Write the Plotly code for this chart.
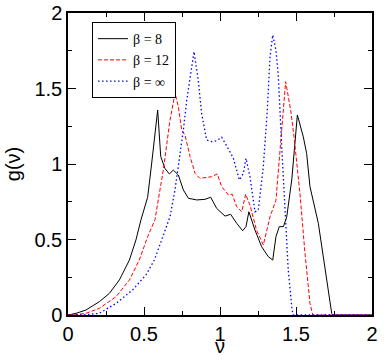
import plotly.graph_objects as go

# beta = 8
x8 = [0.0, 0.053, 0.118, 0.206, 0.272, 0.338, 0.404, 0.447, 0.48, 0.5, 0.524, 0.55, 0.572, 0.59,
      0.61, 0.638, 0.667, 0.693, 0.726, 0.759, 0.792, 0.847, 0.901, 0.939, 0.978, 1.033, 1.07,
      1.11, 1.149, 1.171, 1.19, 1.23, 1.274, 1.318, 1.347, 1.368, 1.39, 1.417, 1.439, 1.472,
      1.509, 1.548, 1.57, 1.592, 1.647, 1.68, 1.713, 1.735, 1.745, 2.0]
y8 = [0.0, 0.011, 0.033, 0.088, 0.143, 0.232, 0.364, 0.497, 0.63, 0.70, 0.78, 1.0, 1.18, 1.357,
      1.05, 0.97, 0.934, 0.96, 0.927, 0.828, 0.773, 0.762, 0.766, 0.78, 0.706, 0.655, 0.667,
      0.607, 0.558, 0.585, 0.684, 0.563, 0.452, 0.386, 0.364, 0.519, 0.585, 0.585, 0.65, 0.894,
      1.325, 1.18, 1.07, 0.85, 0.607, 0.386, 0.144, 0.01, 0.0, 0.0]

# beta = 12
x12 = [0.0, 0.05, 0.118, 0.206, 0.316, 0.404, 0.469, 0.524, 0.572, 0.627, 0.671, 0.704, 0.726,
       0.748, 0.77, 0.803, 0.836, 0.868, 0.945, 0.982, 1.011, 1.055, 1.08, 1.11, 1.143, 1.169,
       1.197, 1.24, 1.285, 1.329, 1.368, 1.395, 1.432, 1.465, 1.487, 1.526, 1.559, 1.592, 1.61, 2.0]
y12 = [0.0, 0.002, 0.011, 0.044, 0.121, 0.232, 0.364, 0.519, 0.63, 0.96, 1.29, 1.468, 1.38,
       1.225, 1.19, 1.05, 0.938, 0.905, 0.916, 0.934, 0.85, 0.795, 0.80, 0.717, 0.684, 0.80,
       0.728, 0.563, 0.464, 0.65, 0.76, 1.115, 1.545, 1.357, 1.18, 0.806, 0.41, 0.077, 0.0, 0.0]

# beta = infinity
xinf = [0.0, 0.1, 0.206, 0.316, 0.425, 0.513, 0.568, 0.671, 0.704, 0.737, 0.759, 0.781, 0.803,
        0.829, 0.857, 0.879, 0.912, 0.945, 0.978, 1.011, 1.055, 1.088, 1.127, 1.154, 1.171, 1.197,
        1.23, 1.252, 1.285, 1.311, 1.329, 1.347, 1.368, 1.384, 1.406, 1.428, 1.449, 1.472, 1.48, 2.0]
yinf = [0.0, 0.0, 0.011, 0.077, 0.166, 0.265, 0.364, 0.65, 0.83, 1.05, 1.225, 1.42, 1.556,
        1.744, 1.556, 1.336, 1.159, 1.148, 1.154, 1.177, 1.10, 1.038, 0.894, 0.938, 1.038, 0.916,
        0.684, 0.695, 0.982, 1.357, 1.71, 1.854, 1.755, 1.578, 1.115, 0.695, 0.298, 0.055, 0.0, 0.0]

names = ["β = 8", "β = 12", "β = ∞"]
xticks = [0, 0.5, 1, 1.5, 2]
xticklabels = ["0", "0.5", "1", "1.5", "2"]
yticks = [0, 0.5, 1, 1.5, 2]
yticklabels = ["0", "0.5", "1", "1.5", "2"]
xtitle = "ν"
ytitle = "g(ν)"

fig = go.Figure()
fig.add_trace(go.Scatter(x=x8, y=y8, mode="lines", name=names[0],
                         line=dict(color="black", width=1)))
fig.add_trace(go.Scatter(x=x12, y=y12, mode="lines", name=names[1],
                         line=dict(color="red", width=1, dash="4px,2px")))
fig.add_trace(go.Scatter(x=xinf, y=yinf, mode="lines", name=names[2],
                         line=dict(color="blue", width=1.3, dash="1.5px,2.5px")))

axis_common = dict(
    showline=True, linecolor="black", linewidth=1.5, mirror="allticks",
    ticks="inside", ticklen=8, tickwidth=1, tickcolor="black",
    showgrid=False, zeroline=False, automargin=False,
    tickfont=dict(family="Liberation Sans, Arial, sans-serif", size=20, color="black"),
    minor=dict(ticks="inside", ticklen=4, tickwidth=1, tickcolor="black", dtick=0.25, showgrid=False),
)

fig.update_layout(
    width=388, height=364,
    margin=dict(l=68, r=16, t=13, b=49),
    paper_bgcolor="white", plot_bgcolor="white",
    showlegend=True,
    legend=dict(x=0.079, y=0.97, xanchor="left", yanchor="top",
                bgcolor="white", bordercolor="black", borderwidth=1,
                font=dict(family="Liberation Serif, Times New Roman, serif", size=14, color="black"),
                tracegroupgap=0, itemwidth=30),
    xaxis=dict(range=[0, 2], tickvals=xticks, ticktext=xticklabels, **axis_common),
    yaxis=dict(range=[0, 2], tickvals=yticks, ticktext=yticklabels,
               title=dict(text=ytitle, standoff=8,
                          font=dict(family="Liberation Sans, Arial, sans-serif", size=20, color="black")),
               **axis_common),
    annotations=[dict(text=xtitle, xref="paper", yref="paper", x=0.5, y=-0.103,
                      xanchor="center", yanchor="middle", showarrow=False,
                      font=dict(family="Liberation Sans, Arial, sans-serif", size=20, color="black"))],
)

fig.write_html("out.html", config={"displayModeBar": False},
               post_script="document.body.style.margin='0';")
